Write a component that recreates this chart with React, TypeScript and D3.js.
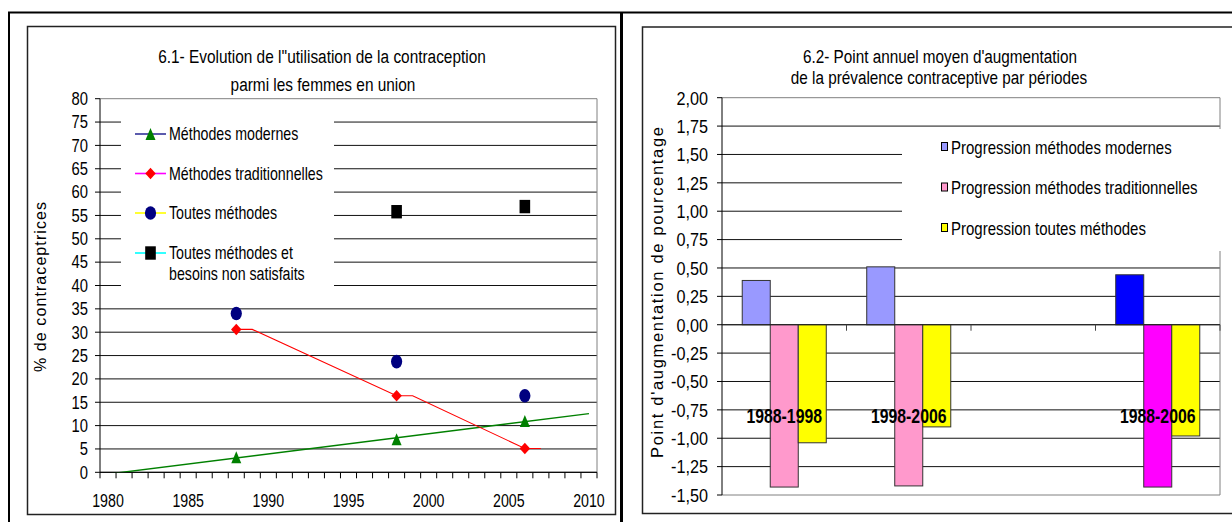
import React from 'react';
import * as d3 from 'd3';

const W = 1232;
const H = 522;
const FONT = '"Liberation Sans", Arial, Helvetica, sans-serif';

// ---- 6.1 : contraceptive use among women in union (%) ----
const surveyYears = [1988, 1998, 2006];
const modernValues = [3.2, 7.1, 11.0];
const traditionalValues = [30.6, 16.4, 5.1];
const allMethodsValues = [34.0, 23.7, 16.4];
const unmetYears = [1998, 2006];
const unmetValues = [55.8, 56.9];
const yearLabels = [1980, 1985, 1990, 1995, 2000, 2005, 2010];
const pctTicks = d3.range(0, 81, 5);

// ---- 6.2 : mean annual increase by period (points) ----
const periods = ['1988-1998', '1998-2006', '', '1988-2006'];
const modernProgress: (number | null)[] = [0.39, 0.51, null, 0.44];
const traditionalProgress: (number | null)[] = [-1.43, -1.42, null, -1.43];
const allProgress: (number | null)[] = [-1.04, -0.9, null, -0.98];
const progressTicks = d3.range(-1.5, 2.001, 0.25);
const progressSeries = [
  { name: 'Progression méthodes modernes', values: modernProgress, colors: ['#9999ff', '#9999ff', '#9999ff', '#0000ff'] },
  { name: 'Progression méthodes traditionnelles', values: traditionalProgress, colors: ['#ff99cc', '#ff99cc', '#ff99cc', '#ff00ff'] },
  { name: 'Progression toutes méthodes', values: allProgress, colors: ['#ffff00', '#ffff00', '#ffff00', '#ffff00'] },
];

const fmt = (v: number) => v.toFixed(2).replace('.', ',').replace(/^-0,00$/, '0,00');

// horizontally set text, slightly stretched vertically
function Txt({ x, y, size, k = 1.25, anchor = 'start', weight = 'normal', children }: any) {
  return (
    <text
      transform={`translate(${x},${y}) scale(1,${k})`}
      fontSize={size}
      textAnchor={anchor}
      fontWeight={weight}
      fontFamily={FONT}
      fill="#000"
    >
      {children}
    </text>
  );
}

// marker shapes
const triPath = (cx: number, cy: number, w: number, h: number) =>
  `M${cx},${cy - h / 2}L${cx + w / 2},${cy + h / 2}L${cx - w / 2},${cy + h / 2}Z`;
const diaPath = (cx: number, cy: number, w: number, h: number) =>
  `M${cx},${cy - h / 2}L${cx + w / 2},${cy}L${cx},${cy + h / 2}L${cx - w / 2},${cy}Z`;

function Marker({ kind, cx, cy }: { kind: string; cx: number; cy: number }) {
  if (kind === 'tri') return <path d={triPath(cx, cy, 10, 12)} fill="#008000" />;
  if (kind === 'dia') return <path d={diaPath(cx, cy, 10.5, 11.5)} fill="#ff0000" />;
  if (kind === 'circ') return <ellipse cx={cx} cy={cy} rx={5.6} ry={6.8} fill="#000080" />;
  return <rect x={cx - 5.3} y={cy - 6.7} width={10.6} height={13.4} fill="#000" />;
}

function LeftChart() {
  const x = d3.scaleLinear().domain([1979.5, 2010.5]).range([100, 597]);
  const y = d3.scaleLinear().domain([0, 80]).range([472.3, 98.7]);

  // linear trend for modern methods
  const mx = d3.mean(surveyYears)!;
  const my = d3.mean(modernValues)!;
  const slope =
    d3.sum(surveyYears.map((t, i) => (t - mx) * (modernValues[i] - my))) /
    d3.sum(surveyYears.map((t) => (t - mx) ** 2));
  const trend = (t: number) => my + slope * (t - mx);
  const trendLine = d3.line<number>().x((t) => x(t)).y((t) => y(trend(t)))([1980, 2010]);

  // traditional methods line with a one-year shelf after each survey
  const tradPts: [number, number][] = [];
  surveyYears.forEach((t, i) => {
    tradPts.push([t, traditionalValues[i]]);
    tradPts.push([t + 1, traditionalValues[i]]);
  });
  const tradLine = d3.line<[number, number]>().x((d) => x(d[0])).y((d) => y(d[1]))(tradPts);

  const tickYears = d3.range(1979.5, 2011, 1);
  const legendItems = [
    { label: ['Méthodes modernes'], color: '#333399', kind: 'tri', cy: 134 },
    { label: ['Méthodes traditionnelles'], color: '#ff00ff', kind: 'dia', cy: 173.5 },
    { label: ['Toutes méthodes'], color: '#ffff00', kind: 'circ', cy: 213 },
    { label: ['Toutes méthodes et', 'besoins non satisfaits'], color: '#00ffff', kind: 'sq', cy: 253 },
  ];

  return (
    <g>
      <defs>
        <clipPath id="plot61">
          <rect x={100} y={98.7} width={497} height={373.6} />
        </clipPath>
      </defs>
      <Txt x={322} y={63} size={15.4} k={1.25} anchor="middle">
        6.1- Evolution de l''utilisation de la contraception
      </Txt>
      <Txt x={323} y={91} size={15.4} k={1.25} anchor="middle">
        parmi les femmes en union
      </Txt>

      {pctTicks.map((v) => (
        <line key={'g' + v} x1={100} x2={597} y1={y(v)} y2={y(v)} stroke={v === 80 ? '#808080' : '#111'} strokeWidth={1} />
      ))}
      <line x1={597} x2={597} y1={y(80)} y2={y(0)} stroke="#808080" />

      {/* legend box */}
      <rect x={121} y={103} width={213} height={198} fill="#fff" />
      {legendItems.map((it) => (
        <g key={it.kind}>
          <line x1={135} x2={166} y1={it.cy} y2={it.cy} stroke={it.color} strokeWidth={1.6} />
          <Marker kind={it.kind} cx={150.5} cy={it.cy} />
          {it.label.map((s, j) => (
            <Txt key={j} x={169} y={it.cy + 6.4 + j * 20.5} size={14.2} k={1.27}>
              {s}
            </Txt>
          ))}
        </g>
      ))}

      {/* axes */}
      <line x1={100} x2={100} y1={y(80)} y2={y(0)} stroke="#000" />
      <line x1={100} x2={597} y1={y(0)} y2={y(0)} stroke="#000" />
      {pctTicks.map((v) => (
        <g key={'t' + v}>
          <line x1={95} x2={100} y1={y(v)} y2={y(v)} stroke="#000" />
          <Txt x={88} y={y(v) + 6.3} size={14.8} k={1.2} anchor="end">
            {v}
          </Txt>
        </g>
      ))}
      {tickYears.map((t) => (
        <line key={'xt' + t} x1={x(t)} x2={x(t)} y1={y(0)} y2={y(0) + 6} stroke="#000" />
      ))}
      {yearLabels.map((t) => (
        <Txt key={'xl' + t} x={x(t)} y={507} size={14.2} k={1.27} anchor="middle">
          {t}
        </Txt>
      ))}

      <text transform="translate(46,287) rotate(-90)" fontSize={16} fontFamily={FONT} textAnchor="middle" textLength={170} lengthAdjust="spacing">
        % de contraceptrices
      </text>

      {/* series */}
      <g clipPath="url(#plot61)">
        <path d={trendLine!} fill="none" stroke="#008000" strokeWidth={1.4} />
        <path d={tradLine!} fill="none" stroke="#ff0000" strokeWidth={1.1} />
      </g>
      {surveyYears.map((t, i) => (
        <g key={'m' + t}>
          <Marker kind="circ" cx={x(t)} cy={y(allMethodsValues[i])} />
          <Marker kind="dia" cx={x(t)} cy={y(traditionalValues[i])} />
          <Marker kind="tri" cx={x(t)} cy={y(modernValues[i])} />
        </g>
      ))}
      {unmetYears.map((t, i) => (
        <Marker key={'u' + t} kind="sq" cx={x(t)} cy={y(unmetValues[i])} />
      ))}
    </g>
  );
}

function RightChart() {
  const y = d3.scaleLinear().domain([-1.5, 2]).range([495, 97.7]);
  const band = d3.scaleBand<string>().domain(periods).range([722, 1220]).padding(0);
  const groupW = band.bandwidth() * 0.675;
  const sub = d3.scaleBand<number>().domain([0, 1, 2]).range([0, groupW]);
  const left = 722;
  const right = 1220;

  return (
    <g>
      <Txt x={940} y={63} size={15.3} k={1.25} anchor="middle">
        6.2- Point annuel moyen d'augmentation
      </Txt>
      <Txt x={939} y={84} size={15.3} k={1.25} anchor="middle">
        de la prévalence contraceptive par périodes
      </Txt>

      {progressTicks.map((v) => (
        <line
          key={'g' + v}
          x1={left}
          x2={right}
          y1={y(v)}
          y2={y(v)}
          stroke={Math.abs(v - 2) < 1e-6 || Math.abs(v + 1.5) < 1e-6 ? '#808080' : '#111'}
        />
      ))}
      <line x1={right} x2={right} y1={y(2)} y2={y(-1.5)} stroke="#808080" />

      {/* legend box */}
      <rect x={902} y={129} width={330} height={122} fill="#fff" />
      {progressSeries.map((s, i) => {
        const cy = 147 + i * 40.5;
        return (
          <g key={s.name}>
            <rect x={941.5} y={cy - 4.5} width={6} height={8} fill={s.colors[0]} stroke="#000" strokeWidth={1} />
            <Txt x={951} y={cy + 6.8} size={15} k={1.27}>
              {s.name}
            </Txt>
          </g>
        );
      })}

      {/* bars */}
      {progressSeries.map((s, si) =>
        periods.map((p, ci) => {
          const v = s.values[ci];
          if (v == null) return null;
          const x0 = band(p)! + (band.bandwidth() - groupW) / 2 + sub(si)!;
          return (
            <rect
              key={si + '-' + ci}
              x={x0}
              y={y(Math.max(0, v))}
              width={sub.bandwidth()}
              height={Math.abs(y(v) - y(0))}
              fill={s.colors[ci]}
              stroke="#333"
              strokeWidth={1}
            />
          );
        })
      )}

      {/* axes */}
      <line x1={left} x2={left} y1={y(2)} y2={y(-1.5)} stroke="#000" />
      <line x1={left} x2={right} y1={y(0)} y2={y(0)} stroke="#222" />
      {periods.map((p) => (
        <line key={'ct' + p} x1={band(p)! + band.bandwidth()} x2={band(p)! + band.bandwidth()} y1={y(0)} y2={y(0) + 6} stroke="#444" />
      ))}
      {progressTicks.map((v) => (
        <g key={'t' + v}>
          <line x1={717} x2={left} y1={y(v)} y2={y(v)} stroke="#000" />
          <Txt x={708} y={y(v) + 6.8} size={16.2} k={1.17} anchor="end">
            {fmt(v)}
          </Txt>
        </g>
      ))}
      {periods.map((p) =>
        p ? (
          <Txt key={'cl' + p} x={band(p)! + band.bandwidth() / 2} y={y(-0.8) + 7.2} size={15.8} k={1.28} anchor="middle" weight="bold">
            {p}
          </Txt>
        ) : null
      )}

      <text transform="translate(663,292.5) rotate(-90)" fontSize={16.5} fontFamily={FONT} textAnchor="middle" textLength={331} lengthAdjust="spacing">
        Point d'augmentation de pourcentage
      </text>
    </g>
  );
}

export default function App() {
  return (
    <svg width={W} height={H} viewBox={`0 0 ${W} ${H}`} style={{ position: 'absolute', left: 0, top: 0, background: '#fff' }}>
      <rect x={0} y={0} width={W} height={H} fill="#fff" />
      {/* page frames */}
      <line x1={8} x2={W} y1={12.5} y2={12.5} stroke="#000" strokeWidth={2} />
      <line x1={9} x2={9} y1={12} y2={H} stroke="#000" strokeWidth={2} />
      <line x1={621.5} x2={621.5} y1={12} y2={H} stroke="#000" strokeWidth={3} />
      <rect x={27.5} y={26.5} width={588} height={488} fill="none" stroke="#222" strokeWidth={1.5} />
      <rect x={642.5} y={27} width={620} height={486.5} fill="none" stroke="#222" strokeWidth={1.5} />
      <LeftChart />
      <RightChart />
    </svg>
  );
}
